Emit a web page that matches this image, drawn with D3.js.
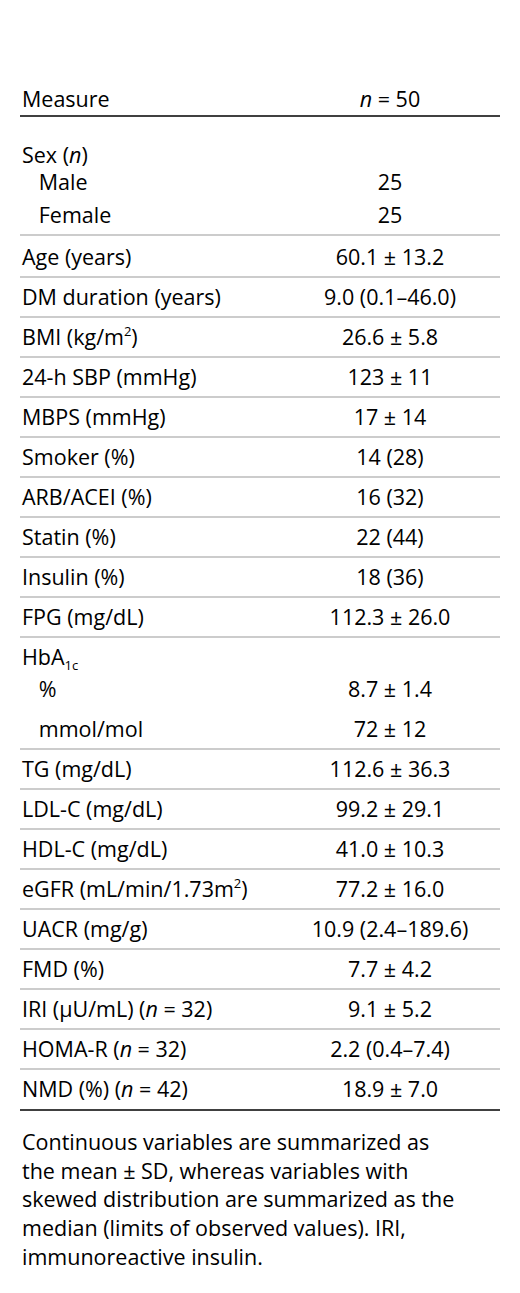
<!DOCTYPE html><html><head><meta charset="utf-8"><script src="https://cdn.jsdelivr.net/npm/d3@7"></script>
<style>body{margin:0;background:#fff}</style></head><body><svg id="c" width="520" height="1293"></svg><script>
const labels=[[["Sex ("],["n","i"],[")"]],[["   Male"]],[["   Female"]],[["Age (years)"]],[["DM duration (years)"]],[["BMI (kg/m"],["2","sup"],[")"]],[["24-h SBP (mmHg)"]],[["MBPS (mmHg)"]],[["Smoker (%)"]],[["ARB/ACEI (%)"]],[["Statin (%)"]],[["Insulin (%)"]],[["FPG (mg/dL)"]],[["HbA"],["1c","sub"]],[["   %"]],[["   mmol/mol"]],[["TG (mg/dL)"]],[["LDL-C (mg/dL)"]],[["HDL-C (mg/dL)"]],[["eGFR (mL/min/1.73m"],["2","sup"],[")"]],[["UACR (mg/g)"]],[["FMD (%)"]],[["IRI (μU/mL) ("],["n","i"],[" = 32)"]],[["HOMA-R ("],["n","i"],[" = 32)"]],[["NMD (%) ("],["n","i"],[" = 42)"]]];
const values=["","25","25","60.1 ± 13.2","9.0 (0.1–46.0)","26.6 ± 5.8","123 ± 11","17 ± 14","14 (28)","16 (32)","22 (44)","18 (36)","112.3 ± 26.0","","8.7 ± 1.4","72 ± 12","112.6 ± 36.3","99.2 ± 29.1","41.0 ± 10.3","77.2 ± 16.0","10.9 (2.4–189.6)","7.7 ± 4.2","9.1 ± 5.2","2.2 (0.4–7.4)","18.9 ± 7.0"];
const groups=[0,0,0,1,2,3,4,5,6,7,8,9,10,11,11,11,12,13,14,15,16,17,18,19,20];
const rowY=[155,182,215,257,297,337,377,417,457,497,537,577,617,657,689,729,769,809,849,889,929,969,1009,1049,1089];
const notes=["Continuous variables are summarized as","the mean ± SD, whereas variables with","skewed distribution are summarized as the","median (limits of observed values). IRI,","immunoreactive insulin."];
const svg=d3.select("#c"),F="'Open Sans',Lato,sans-serif",FS=21.5;
const x=d3.scaleLinear().domain([0,1]).range([20,500]);
svg.append("text").attr("x",22).attr("y",107).attr("font-family",F).attr("font-size",FS).text("Measure");
const h=svg.append("text").attr("x",390).attr("y",107).attr("text-anchor","middle").attr("font-family",F).attr("font-size",FS);
h.append("tspan").attr("font-style","italic").text("n");h.append("tspan").text(" = 50");
svg.append("line").attr("x1",x(0)).attr("x2",x(1)).attr("y1",116).attr("y2",116).attr("stroke","#000").attr("stroke-width",1.5);
labels.forEach((lab,i)=>{
  const t=svg.append("text").attr("x",22).attr("y",rowY[i]+8).attr("font-family",F).attr("font-size",FS).style("white-space","pre");
  lab.forEach(([s,k],j)=>{const sp=t.append("tspan").text(s);
    if(k==="i")sp.attr("font-style","italic");
    if(k==="sup")sp.attr("font-size",13).attr("dy",-9);
    if(k==="sub")sp.attr("font-size",13).attr("dy",5);
    if(j>0&&lab[j-1][1]==="sup")sp.attr("dy",9);
  });
  svg.append("text").attr("x",390).attr("y",rowY[i]+8).attr("text-anchor","middle").attr("font-family",F).attr("font-size",FS).text(values[i]);
  if(i<labels.length-1&&groups[i+1]!==groups[i]){
    const ly=(rowY[i]+rowY[i+1])/2+(groups[i]===0?-1:0);
    svg.append("line").attr("x1",x(0)).attr("x2",x(1)).attr("y1",ly).attr("y2",ly).attr("stroke","#999").attr("stroke-width",1);
  }
});
svg.append("line").attr("x1",x(0)).attr("x2",x(1)).attr("y1",1110).attr("y2",1110).attr("stroke","#000").attr("stroke-width",1.5);
notes.forEach((n,i)=>svg.append("text").attr("x",22).attr("y",1150+i*28.7).attr("font-family",F).attr("font-size",FS).text(n));
</script></body></html>
